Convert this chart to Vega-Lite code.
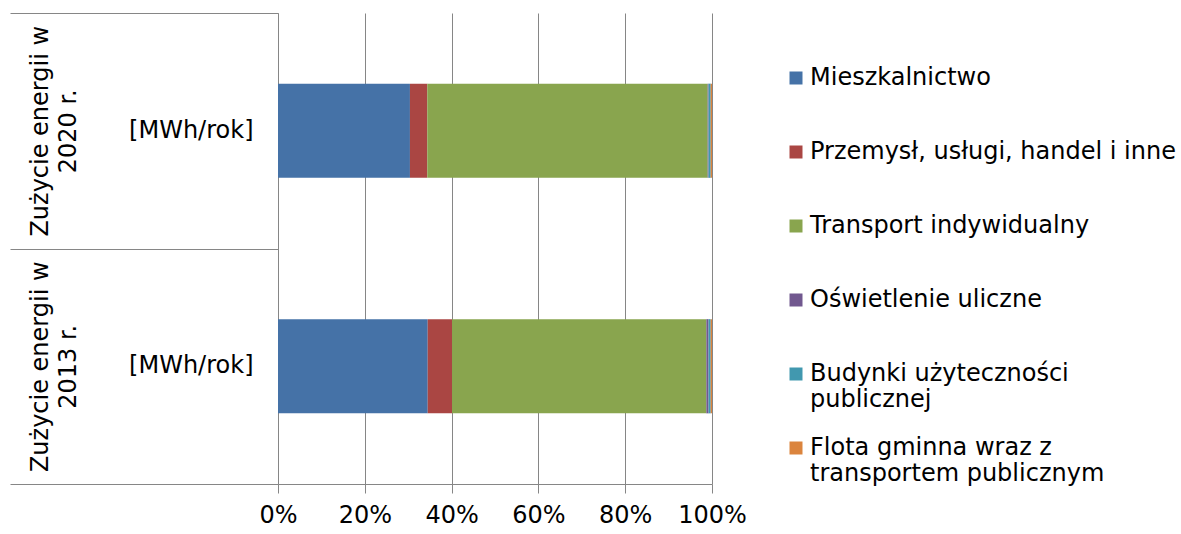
{
  "$schema": "https://vega.github.io/schema/vega-lite/v6.json",
  "width": 434,
  "height": 471,
  "autosize": {"type": "none"},
  "padding": {"left": 278, "top": 13, "right": 469, "bottom": 50},
  "background": "white",
  "config": {
    "font": "DejaVu Sans",
    "view": {"stroke": null}
  },
  "data": {
    "values": [
      {"rok": "2020", "nr": 1, "sektor": "Mieszkalnictwo", "udzial": 30.4},
      {"rok": "2020", "nr": 2, "sektor": "Przemysł, usługi, handel i inne", "udzial": 4.0},
      {"rok": "2020", "nr": 3, "sektor": "Transport indywidualny", "udzial": 64.6},
      {"rok": "2020", "nr": 4, "sektor": "Oświetlenie uliczne", "udzial": 0.2},
      {"rok": "2020", "nr": 5, "sektor": "Budynki użyteczności publicznej", "udzial": 0.5},
      {"rok": "2020", "nr": 6, "sektor": "Flota gminna wraz z transportem publicznym", "udzial": 0.3},
      {"rok": "2013", "nr": 1, "sektor": "Mieszkalnictwo", "udzial": 34.5},
      {"rok": "2013", "nr": 2, "sektor": "Przemysł, usługi, handel i inne", "udzial": 5.6},
      {"rok": "2013", "nr": 3, "sektor": "Transport indywidualny", "udzial": 58.6},
      {"rok": "2013", "nr": 4, "sektor": "Oświetlenie uliczne", "udzial": 0.5},
      {"rok": "2013", "nr": 5, "sektor": "Budynki użyteczności publicznej", "udzial": 0.5},
      {"rok": "2013", "nr": 6, "sektor": "Flota gminna wraz z transportem publicznym", "udzial": 0.3}
    ]
  },
  "layer": [
    {
      "mark": {"type": "bar", "height": {"band": 0.4}},
      "encoding": {
        "y": {
          "field": "rok",
          "type": "nominal",
          "sort": ["2020", "2013"],
          "scale": {"paddingInner": 0, "paddingOuter": 0},
          "axis": {
            "orient": "left",
            "title": null,
            "domain": true,
            "domainColor": "#868686",
            "ticks": false,
            "grid": false,
            "labelExpr": "'[MWh/rok]'",
            "labelPadding": 25,
            "labelFontSize": 24,
            "labelColor": "#000000",
            "labelAlign": "right",
            "labelBaseline": "middle",
            "labelLimit": 0
          }
        },
        "x": {
          "field": "udzial",
          "type": "quantitative",
          "stack": "normalize",
          "scale": {"domain": [0, 1]},
          "axis": {
            "orient": "bottom",
            "title": null,
            "format": ".0%",
            "values": [0, 0.2, 0.4, 0.6, 0.8, 1],
            "grid": true,
            "gridColor": "#868686",
            "gridOpacity": 1,
            "domainColor": "#868686",
            "tickColor": "#868686",
            "tickSize": 9,
            "labelFontSize": 24,
            "labelPadding": 10,
            "labelColor": "#000000",
            "labelFlush": false
          }
        },
        "order": {"field": "nr", "type": "quantitative", "sort": "ascending"},
        "color": {
          "field": "sektor",
          "type": "nominal",
          "sort": ["Mieszkalnictwo", "Przemysł, usługi, handel i inne", "Transport indywidualny", "Oświetlenie uliczne", "Budynki użyteczności publicznej", "Flota gminna wraz z transportem publicznym"],
          "scale": {
            "domain": ["Mieszkalnictwo", "Przemysł, usługi, handel i inne", "Transport indywidualny", "Oświetlenie uliczne", "Budynki użyteczności publicznej", "Flota gminna wraz z transportem publicznym"],
            "range": ["#4572A7", "#AA4643", "#89A54E", "#71588F", "#4198AF", "#DB843D"]
          },
          "legend": {
            "orient": "none",
            "legendX": 506,
            "legendY": 53,
            "padding": 0,
            "title": null,
            "symbolType": "square",
            "symbolSize": 169,
            "symbolStrokeWidth": 0,
            "symbolOpacity": 1,
            "labelFontSize": 24,
            "labelColor": "#000000",
            "labelOffset": 2,
            "labelLimit": 0,
            "labelLineHeight": 28,
            "gridAlign": "all",
            "columns": 1,
            "rowPadding": 24,
            "labelExpr": "datum.label == 'Budynki użyteczności publicznej' ? ['Budynki użyteczności', 'publicznej'] : datum.label == 'Flota gminna wraz z transportem publicznym' ? ['Flota gminna wraz z', 'transportem publicznym'] : datum.label"
          }
        }
      }
    },
    {
      "mark": {"type": "bar", "opacity": 0},
      "encoding": {
        "y": {
          "field": "rok",
          "type": "nominal",
          "sort": ["2020", "2013"],
          "scale": {"paddingInner": 0, "paddingOuter": 0},
          "axis": {
            "orient": "left",
            "title": null,
            "domain": false,
            "grid": false,
            "ticks": true,
            "tickBand": "extent",
            "tickExtra": true,
            "tickSize": 268,
            "tickColor": "#868686",
            "labelExpr": "datum.value ? ['Zużycie energii w', datum.value + ' r.'] : ''",
            "labelAngle": 270,
            "labelAlign": "center",
            "labelBaseline": "bottom",
            "labelPadding": -42,
            "labelFontSize": 24,
            "labelLineHeight": 28,
            "labelColor": "#000000",
            "labelLimit": 0
          }
        }
      }
    }
  ],
  "resolve": {"scale": {"y": "independent"}, "axis": {"y": "independent"}}
}
